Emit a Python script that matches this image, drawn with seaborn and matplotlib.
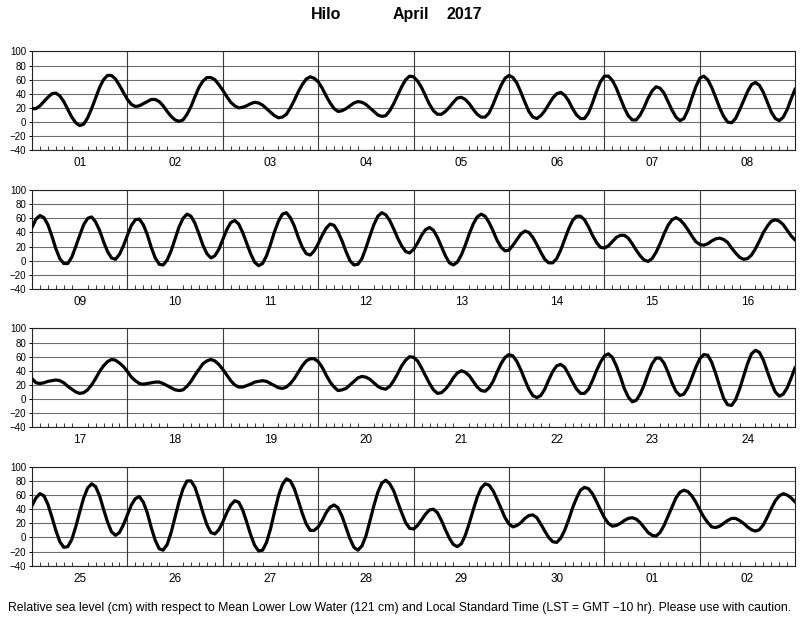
import matplotlib
matplotlib.use("Agg")
import matplotlib.pyplot as plt
import numpy as np
import pandas as pd
import seaborn as sns

station = "Hilo"
month_name = "April"
year_name = "2017"
footer = ("Relative sea level (cm) with respect to Mean Lower Low Water (121 cm) "
          "and Local Standard Time (LST = GMT \u221210 hr). Please use with caution.")

day_labels = [
    ["01", "02", "03", "04", "05", "06", "07", "08"],
    ["09", "10", "11", "12", "13", "14", "15", "16"],
    ["17", "18", "19", "20", "21", "22", "23", "24"],
    ["25", "26", "27", "28", "29", "30", "01", "02"],
]

# hourly sea level (cm), hours 0..192 of each 8-day row
level_row1 = [
    19, 19, 23, 29, 35, 40, 41, 37, 29, 18, 7, -1, -5, -3, 6, 19, 34, 49, 60, 66, 66, 61, 52, 42,
    32, 25, 22, 23, 26, 29, 32, 32, 29, 23, 15, 8, 3, 1, 3, 11, 22, 36, 49, 58, 63, 63, 60, 53,
    45, 36, 28, 23, 20, 21, 23, 26, 28, 27, 24, 19, 14, 9, 6, 7, 11, 20, 31, 43, 53, 61, 64, 62,
    57, 48, 37, 27, 19, 15, 16, 19, 23, 27, 29, 28, 25, 20, 15, 10, 8, 9, 16, 26, 38, 50, 60, 65,
    64, 58, 49, 37, 25, 16, 11, 11, 15, 21, 28, 34, 35, 32, 26, 18, 11, 7, 7, 13, 25, 39, 52, 62,
    66, 63, 55, 42, 28, 15, 7, 5, 9, 16, 25, 34, 40, 42, 38, 30, 19, 10, 5, 5, 13, 27, 43, 57,
    65, 65, 59, 48, 34, 20, 9, 3, 3, 10, 21, 34, 44, 50, 48, 41, 29, 17, 7, 2, 5, 17, 34, 50,
    62, 65, 60, 49, 35, 20, 8, 0, -1, 5, 17, 30, 43, 53, 56, 52, 42, 28, 14, 5, 2, 7, 18, 33,
    47,
]
level_row2 = [
    47, 59, 64, 61, 51, 35, 17, 3, -4, -4, 5, 20, 36, 51, 60, 62, 55, 43, 27, 13, 4, 2, 9, 21,
    36, 50, 58, 59, 51, 37, 19, 4, -5, -6, 1, 14, 31, 48, 60, 66, 63, 53, 38, 22, 10, 4, 7, 16,
    30, 44, 54, 57, 52, 40, 25, 10, -2, -7, -4, 7, 23, 41, 56, 66, 68, 61, 49, 33, 19, 10, 8, 14,
    24, 36, 46, 52, 50, 41, 28, 13, 0, -6, -5, 3, 18, 35, 51, 63, 68, 65, 57, 45, 32, 21, 13, 11,
    16, 25, 36, 44, 47, 43, 33, 20, 7, -3, -6, -2, 8, 22, 38, 52, 62, 66, 63, 54, 42, 29, 19, 14,
    15, 22, 30, 38, 42, 40, 33, 23, 12, 2, -3, -3, 3, 15, 30, 45, 57, 63, 63, 58, 48, 36, 26, 19,
    18, 21, 27, 33, 36, 36, 32, 24, 15, 7, 1, -1, 3, 12, 24, 38, 50, 58, 61, 58, 52, 44, 35, 27,
    23, 22, 24, 28, 31, 32, 30, 26, 18, 11, 5, 2, 3, 8, 17, 28, 40, 49, 56, 58, 56, 51, 43, 35,
    29,
]
level_row3 = [
    29, 23, 22, 23, 25, 26, 27, 26, 23, 18, 14, 10, 8, 9, 13, 20, 29, 39, 47, 53, 56, 55, 51, 46,
    39, 31, 26, 22, 21, 22, 23, 24, 24, 22, 19, 16, 13, 12, 13, 18, 25, 34, 42, 50, 54, 56, 54, 49,
    42, 34, 26, 20, 17, 17, 19, 21, 24, 25, 26, 25, 22, 19, 16, 15, 17, 22, 29, 38, 47, 54, 57, 57,
    53, 45, 34, 24, 17, 12, 13, 15, 20, 25, 30, 32, 31, 28, 23, 18, 15, 14, 18, 26, 36, 47, 55, 60,
    59, 54, 44, 33, 22, 13, 8, 9, 14, 21, 30, 37, 40, 38, 33, 25, 17, 12, 11, 16, 25, 38, 50, 59,
    63, 61, 53, 41, 27, 14, 5, 2, 5, 14, 27, 39, 47, 49, 45, 35, 24, 14, 8, 8, 14, 26, 40, 52,
    61, 64, 59, 47, 32, 15, 3, -4, -2, 7, 20, 36, 50, 58, 58, 51, 38, 23, 11, 5, 7, 16, 30, 45,
    57, 63, 62, 52, 36, 18, 1, -8, -9, -1, 14, 32, 50, 64, 69, 66, 55, 39, 23, 10, 4, 7, 16, 30,
    45,
]
level_row4 = [
    45, 56, 62, 59, 47, 29, 10, -6, -14, -13, -3, 15, 36, 56, 70, 76, 72, 59, 40, 22, 8, 3, 7, 18,
    32, 46, 55, 58, 50, 35, 14, -4, -16, -18, -10, 7, 29, 51, 69, 80, 80, 71, 54, 35, 18, 7, 5, 11,
    22, 35, 46, 52, 50, 39, 22, 4, -11, -19, -18, -7, 12, 36, 59, 75, 83, 80, 69, 52, 34, 19, 10, 10,
    15, 24, 35, 43, 46, 42, 30, 14, -2, -14, -18, -12, 2, 23, 45, 64, 77, 81, 76, 66, 50, 35, 21, 13,
    12, 17, 25, 33, 39, 40, 35, 24, 11, -1, -10, -13, -9, 3, 20, 39, 57, 70, 76, 74, 66, 54, 41, 28,
    19, 15, 17, 21, 27, 31, 32, 28, 19, 9, 0, -6, -7, -1, 10, 25, 42, 56, 67, 71, 69, 62, 51, 39,
    28, 20, 16, 17, 20, 24, 27, 28, 26, 21, 14, 7, 3, 2, 7, 17, 30, 43, 56, 64, 67, 65, 59, 50,
    39, 29, 21, 15, 14, 16, 20, 24, 27, 27, 24, 20, 15, 11, 9, 11, 18, 29, 41, 52, 59, 62, 60, 56,
    50,
]
rows = [level_row1, level_row2, level_row3, level_row4]

sns.set_style("white")
plt.rcParams["font.family"] = ["Liberation Sans", "DejaVu Sans"]
plt.rcParams["text.color"] = "black"
plt.rcParams["xtick.color"] = "black"
plt.rcParams["ytick.color"] = "black"

fig = plt.figure(figsize=(8, 6.18), dpi=100)

grid_col = "#6e6e6e"
bottoms = [0.7568, 0.5324, 0.3086, 0.0846]
for levels, labels, b in zip(rows, day_labels, bottoms):
    ax = fig.add_axes([0.04, b, 0.954, 0.16])
    df = pd.DataFrame({"hour": np.arange(len(levels)), "level": levels})
    sns.lineplot(data=df, x="hour", y="level", ax=ax, color="black",
                 linewidth=2.3, zorder=3, solid_joinstyle="round",
                 solid_capstyle="round")
    ax.set_xlim(0, 192)
    ax.set_ylim(-40, 100)
    ax.set_yticks(range(-40, 101, 20))
    ax.yaxis.grid(True, color=grid_col, linewidth=0.8)
    ax.xaxis.grid(False)
    for d in range(1, 8):
        ax.axvline(24 * d, color="#3a3a3a", linewidth=0.8, zorder=1)
    ax.set_xticks(np.arange(12, 192, 24))
    ax.set_xticklabels(labels)
    ax.set_xticks(np.arange(0, 193, 2), minor=True)
    ax.tick_params(axis="x", which="major", length=0, pad=5, labelsize=8.5)
    ax.tick_params(axis="x", which="minor", direction="in", length=3,
                   width=0.7, bottom=True, color="#333333")
    ax.tick_params(axis="y", which="major", direction="out", length=2,
                   width=0.7, pad=2, labelsize=7, left=True)
    ax.set_xlabel("")
    ax.set_ylabel("")
    for s in ax.spines.values():
        s.set_color("#222222")
        s.set_linewidth(0.8)

title_y = 1 - 19 / 618
fig.text(326 / 800, title_y, station, ha="center", va="baseline",
         fontsize=11.5, fontweight="bold")
fig.text(411 / 800, title_y, month_name, ha="center", va="baseline",
         fontsize=11.5, fontweight="bold")
fig.text(464 / 800, title_y, year_name, ha="center", va="baseline",
         fontsize=11.5, fontweight="bold")
fig.text(0.5, 1 - 608 / 618, footer, ha="center", va="center", fontsize=8.85)

fig.savefig("out.png", dpi=100)
